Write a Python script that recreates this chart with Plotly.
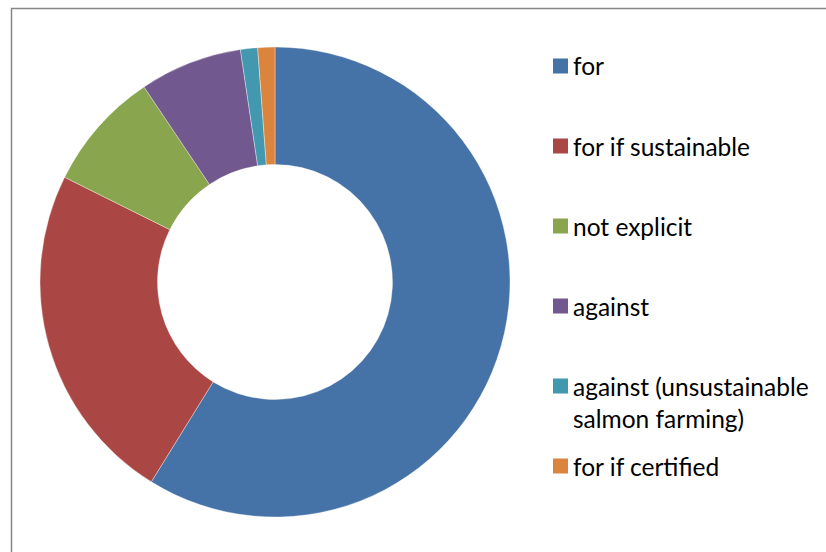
import plotly.graph_objects as go

# Survey responses by stance
labels = ["for", "for if sustainable", "not explicit", "against",
          "against (unsustainable<br>salmon farming)", "for if certified"]
counts = [50, 20, 7, 6, 1, 1]
colors = ["#4572A7", "#AA4643", "#89A54E", "#71588F", "#4198AF", "#DB843D"]

W, H = 826, 552


def px(x):
    return x / W


def py(y):
    return 1 - y / H


fig = go.Figure(go.Pie(
    labels=labels,
    values=counts,
    hole=0.5,
    sort=False,
    direction="clockwise",
    rotation=0,
    textinfo="none",
    marker=dict(colors=colors, line=dict(color="rgba(255,255,255,0.6)", width=0.6)),
    domain=dict(x=[px(40), px(510)], y=[py(517), py(47)]),
    showlegend=False,
))

# Legend drawn at the right: colored squares with labels
shapes = []
annotations = []
first_y, step, line_gap, sq = 66, 80, 32, 15
for i, (lab, col) in enumerate(zip(labels, colors)):
    yc = first_y + step * i
    shapes.append(dict(type="rect", xref="paper", yref="paper",
                       x0=px(553), x1=px(553 + sq),
                       y0=py(yc + sq / 2), y1=py(yc - sq / 2),
                       fillcolor=col, line=dict(width=0)))
    for j, part in enumerate(lab.split("<br>")):
        annotations.append(dict(x=px(571), y=py(yc + j * line_gap),
                                xref="paper", yref="paper",
                                xanchor="left", yanchor="middle",
                                text=part, showarrow=False,
                                font=dict(family="Lato", size=24.5, color="#000000")))

# Chart frame
shapes.append(dict(type="rect", xref="paper", yref="paper",
                   x0=px(11.5), x1=1.2, y0=-0.2, y1=py(8.5),
                   line=dict(color="#878787", width=1.5), fillcolor="rgba(0,0,0,0)"))

fig.update_layout(
    width=W, height=H,
    margin=dict(l=0, r=0, t=0, b=0),
    paper_bgcolor="white",
    plot_bgcolor="white",
    shapes=shapes,
    annotations=annotations,
)

fig.write_html("out.html")
